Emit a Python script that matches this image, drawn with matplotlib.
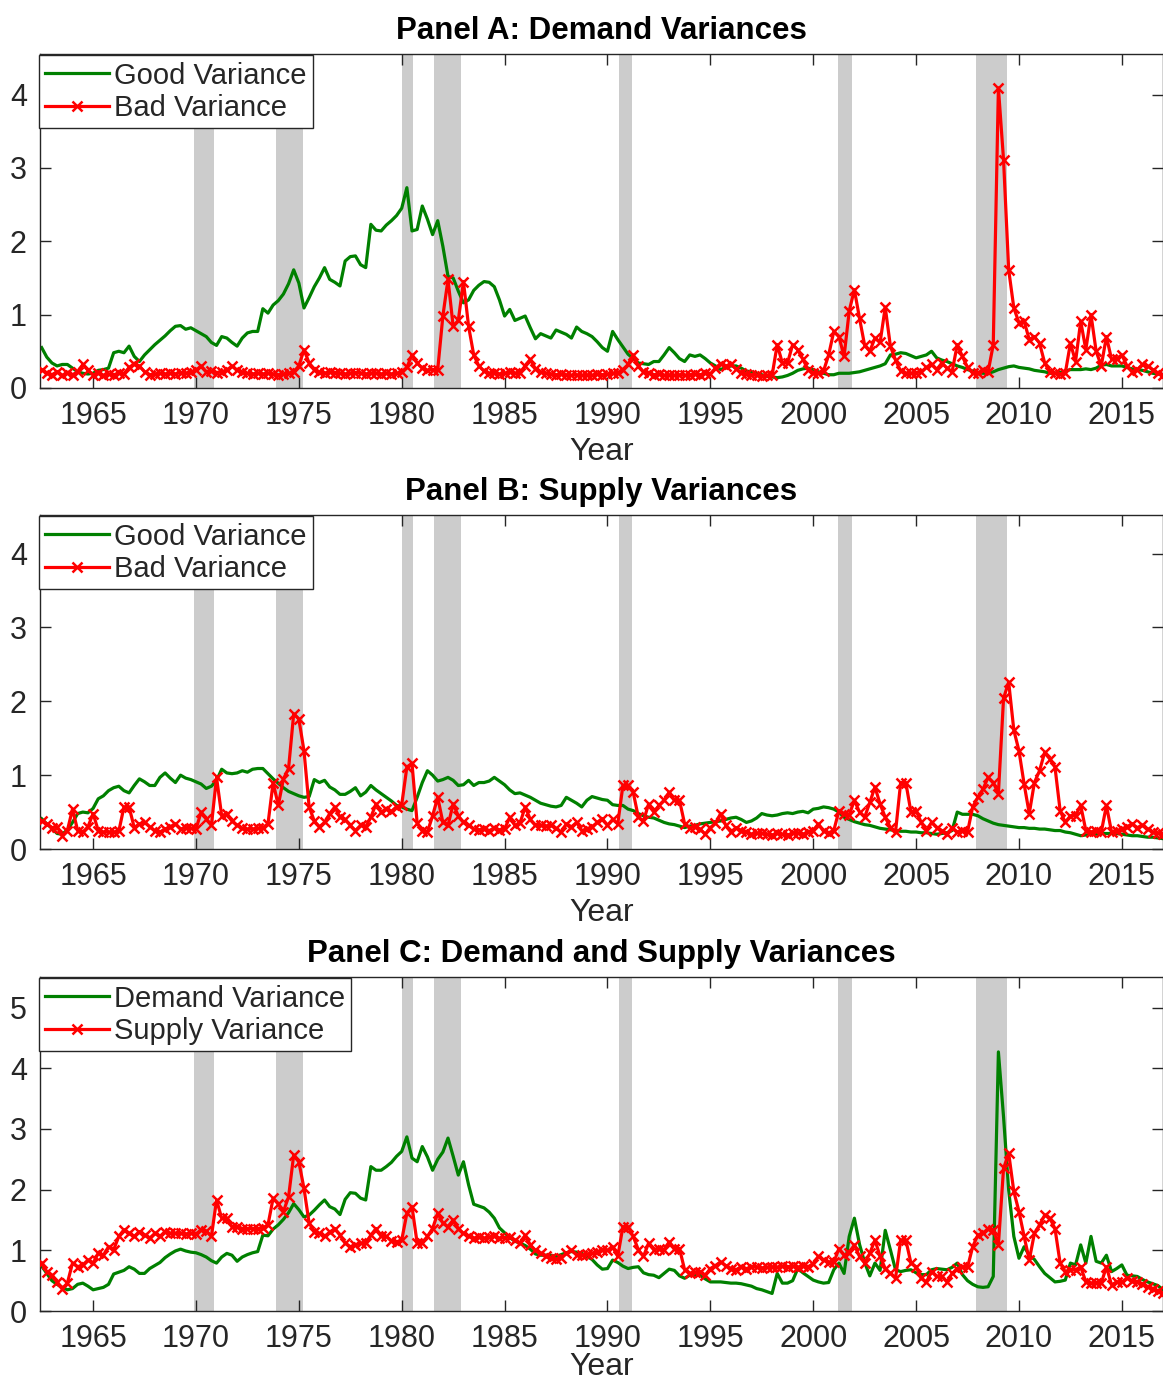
import numpy as np
import matplotlib
matplotlib.use("Agg")
import matplotlib.pyplot as plt

plt.rcParams['font.family'] = ['Liberation Sans', 'DejaVu Sans']

# Quarterly observation dates, 1962Q3 .. 2017Q1
dates = np.arange(1962.5, 2017.001, 0.25)

# NBER recession periods (start, end) in fractional years
recessions = [(1969.92, 1970.88), (1973.88, 1975.2), (1980.0, 1980.55),
              (1981.55, 1982.88), (1990.55, 1991.2), (2001.2, 2001.88),
              (2007.92, 2009.42)]

# Panel A: demand good / bad variances
demand_good = [
    0.55, 0.42,
    0.34, 0.30, 0.32, 0.32,  0.27, 0.22, 0.20, 0.19,  0.20, 0.24, 0.25, 0.27,
    0.48, 0.50, 0.48, 0.57,  0.43, 0.36, 0.45, 0.52,  0.59, 0.65, 0.71, 0.78,
    0.84, 0.85, 0.80, 0.82,  0.78, 0.74, 0.70, 0.62,  0.58, 0.70, 0.68, 0.62,
    0.57, 0.68, 0.75, 0.77,  0.77, 1.08, 1.02, 1.13,  1.19, 1.28, 1.42, 1.61,
    1.43, 1.09, 1.23, 1.38,  1.50, 1.64, 1.48, 1.44,  1.39, 1.73, 1.79, 1.80,
    1.68, 1.64, 2.23, 2.15,  2.14, 2.22, 2.28, 2.35,  2.45, 2.73, 2.14, 2.16,
    2.48, 2.30, 2.09, 2.28,  1.93, 1.52, 1.50, 1.32,  1.16, 1.20, 1.33, 1.40,
    1.45, 1.44, 1.38, 1.20,  0.98, 1.07, 0.92, 0.95,  0.98, 0.82, 0.67, 0.74,
    0.71, 0.68, 0.79, 0.76,  0.73, 0.68, 0.83, 0.77,  0.74, 0.70, 0.63, 0.55,
    0.50, 0.77, 0.66, 0.56,  0.46, 0.40, 0.34, 0.33,  0.32, 0.36, 0.36, 0.45,
    0.55, 0.48, 0.40, 0.36,  0.45, 0.43, 0.45, 0.40,  0.34, 0.30, 0.25, 0.28,
    0.30, 0.30, 0.27, 0.23,  0.22, 0.20, 0.18, 0.16,  0.15, 0.14, 0.15, 0.17,
    0.20, 0.24, 0.26, 0.27,  0.25, 0.22, 0.20, 0.18,  0.18, 0.20, 0.20, 0.20,
    0.21, 0.22, 0.24, 0.26,  0.28, 0.30, 0.33, 0.45,  0.46, 0.48, 0.47, 0.44,
    0.41, 0.43, 0.45, 0.50,  0.41, 0.38, 0.36, 0.33,  0.30, 0.28, 0.25, 0.23,
    0.21, 0.20, 0.20, 0.22,  0.25, 0.27, 0.29, 0.30,  0.28, 0.27, 0.26, 0.24,
    0.23, 0.22, 0.20, 0.20,  0.21, 0.23, 0.25, 0.25,  0.25, 0.26, 0.25, 0.27,
    0.31, 0.32, 0.30, 0.30,  0.30, 0.28, 0.26, 0.25,  0.24, 0.22, 0.20, 0.19,
    0.18]
demand_bad = [
    0.25, 0.20,
    0.18, 0.22, 0.17, 0.20,  0.18, 0.22, 0.32, 0.24,  0.18, 0.20, 0.17, 0.19,
    0.18, 0.20, 0.19, 0.28,  0.32, 0.30, 0.22, 0.18,  0.19, 0.20, 0.19, 0.20,
    0.19, 0.21, 0.20, 0.22,  0.24, 0.30, 0.22, 0.23,  0.21, 0.22, 0.24, 0.30,
    0.24, 0.22, 0.20, 0.19,  0.20, 0.19, 0.20, 0.19,  0.18, 0.19, 0.20, 0.22,
    0.30, 0.52, 0.34, 0.25,  0.22, 0.20, 0.22, 0.21,  0.20, 0.19, 0.20, 0.21,
    0.20, 0.19, 0.20, 0.20,  0.19, 0.20, 0.19, 0.20,  0.22, 0.28, 0.45, 0.34,
    0.27, 0.24, 0.25, 0.25,  0.98, 1.48, 0.84, 0.92,  1.45, 0.84, 0.45, 0.30,
    0.23, 0.20, 0.21, 0.19,  0.20, 0.22, 0.20, 0.21,  0.30, 0.39, 0.26, 0.22,
    0.20, 0.19, 0.18, 0.19,  0.18, 0.17, 0.18, 0.17,  0.18, 0.17, 0.19, 0.18,
    0.19, 0.20, 0.21, 0.25,  0.32, 0.45, 0.30, 0.22,  0.20, 0.18, 0.19, 0.17,
    0.18, 0.17, 0.18, 0.17,  0.18, 0.19, 0.18, 0.20,  0.19, 0.27, 0.33, 0.30,
    0.32, 0.26, 0.21, 0.19,  0.18, 0.17, 0.16, 0.17,  0.17, 0.59, 0.34, 0.34,
    0.59, 0.52, 0.39, 0.25,  0.21, 0.20, 0.23, 0.45,  0.77, 0.70, 0.43, 1.05,
    1.34, 0.95, 0.58, 0.50,  0.68, 0.62, 1.10, 0.57,  0.38, 0.23, 0.20, 0.20,
    0.21, 0.22, 0.28, 0.32,  0.25, 0.34, 0.27, 0.22,  0.59, 0.43, 0.28, 0.20,
    0.20, 0.25, 0.22, 0.59,  4.09, 3.11, 1.61, 1.09,  0.89, 0.91, 0.66, 0.70,
    0.61, 0.34, 0.22, 0.20,  0.19, 0.20, 0.61, 0.36,  0.91, 0.52, 1.00, 0.50,
    0.30, 0.70, 0.39, 0.40,  0.45, 0.30, 0.22, 0.25,  0.32, 0.30, 0.25, 0.20,
    0.18]

# Panel B: supply good / bad variances
supply_good = [
    0.41, 0.34,
    0.28, 0.21, 0.20, 0.26,  0.36, 0.48, 0.50, 0.49,  0.55, 0.68, 0.72, 0.79,
    0.83, 0.85, 0.79, 0.76,  0.86, 0.95, 0.91, 0.86,  0.86, 0.97, 1.03, 0.96,
    0.90, 1.00, 0.96, 0.94,  0.91, 0.88, 0.82, 0.85,  0.93, 1.08, 1.03, 1.02,
    1.03, 1.06, 1.04, 1.08,  1.09, 1.09, 1.02, 0.95,  0.89, 0.83, 0.78, 0.75,
    0.72, 0.70, 0.71, 0.94,  0.90, 0.93, 0.84, 0.80,  0.74, 0.74, 0.78, 0.83,
    0.72, 0.77, 0.86, 0.80,  0.75, 0.70, 0.65, 0.59,  0.57, 0.54, 0.52, 0.70,
    0.90, 1.06, 1.00, 0.92,  0.94, 0.97, 0.93, 0.86,  0.87, 0.93, 0.86, 0.90,
    0.90, 0.92, 0.97, 0.92,  0.87, 0.80, 0.75, 0.76,  0.73, 0.70, 0.66, 0.62,
    0.60, 0.58, 0.57, 0.59,  0.70, 0.66, 0.62, 0.57,  0.66, 0.71, 0.69, 0.67,
    0.66, 0.60, 0.59, 0.59,  0.54, 0.52, 0.48, 0.45,  0.43, 0.42, 0.39, 0.36,
    0.34, 0.33, 0.31, 0.29,  0.31, 0.32, 0.34, 0.35,  0.36, 0.37, 0.38, 0.40,
    0.42, 0.43, 0.40, 0.36,  0.38, 0.42, 0.48, 0.46,  0.45, 0.46, 0.48, 0.49,
    0.48, 0.50, 0.51, 0.49,  0.54, 0.55, 0.57, 0.56,  0.54, 0.50, 0.43, 0.40,
    0.37, 0.35, 0.33, 0.32,  0.30, 0.28, 0.27, 0.26,  0.25, 0.24, 0.24, 0.23,
    0.23, 0.22, 0.22, 0.21,  0.20, 0.21, 0.22, 0.25,  0.50, 0.47, 0.47, 0.47,
    0.45, 0.41, 0.38, 0.35,  0.33, 0.32, 0.31, 0.30,  0.29, 0.29, 0.28, 0.28,
    0.27, 0.27, 0.26, 0.25,  0.25, 0.23, 0.22, 0.20,  0.18, 0.19, 0.20, 0.20,
    0.21, 0.21, 0.21, 0.21,  0.20, 0.19, 0.18, 0.18,  0.17, 0.16, 0.16, 0.15,
    0.14]
supply_bad = [
    0.38, 0.34,
    0.29, 0.30, 0.18, 0.25,  0.54, 0.25, 0.23, 0.30,  0.48, 0.25, 0.23, 0.23,
    0.23, 0.24, 0.57, 0.57,  0.29, 0.34, 0.36, 0.30,  0.25, 0.23, 0.27, 0.30,
    0.34, 0.27, 0.29, 0.28,  0.27, 0.50, 0.41, 0.32,  0.97, 0.45, 0.48, 0.38,
    0.32, 0.28, 0.27, 0.27,  0.28, 0.29, 0.34, 0.90,  0.59, 0.95, 1.09, 1.83,
    1.76, 1.33, 0.57, 0.38,  0.30, 0.36, 0.48, 0.57,  0.43, 0.40, 0.32, 0.25,
    0.32, 0.30, 0.43, 0.61,  0.50, 0.54, 0.51, 0.57,  0.60, 1.11, 1.16, 0.35,
    0.25, 0.23, 0.45, 0.70,  0.36, 0.32, 0.61, 0.45,  0.36, 0.32, 0.27, 0.26,
    0.27, 0.25, 0.28, 0.26,  0.27, 0.43, 0.32, 0.35,  0.57, 0.40, 0.32, 0.32,
    0.31, 0.32, 0.28, 0.23,  0.34, 0.30, 0.36, 0.25,  0.27, 0.30, 0.36, 0.41,
    0.32, 0.40, 0.34, 0.86,  0.86, 0.77, 0.43, 0.38,  0.61, 0.50, 0.59, 0.66,
    0.77, 0.66, 0.66, 0.34,  0.29, 0.30, 0.27, 0.20,  0.29, 0.35, 0.48, 0.32,
    0.23, 0.29, 0.25, 0.23,  0.20, 0.22, 0.21, 0.20,  0.19, 0.21, 0.20, 0.19,
    0.21, 0.22, 0.20, 0.23,  0.25, 0.34, 0.24, 0.22,  0.25, 0.52, 0.48, 0.46,
    0.66, 0.50, 0.43, 0.63,  0.84, 0.61, 0.43, 0.29,  0.23, 0.90, 0.90, 0.50,
    0.52, 0.36, 0.25, 0.36,  0.29, 0.25, 0.20, 0.29,  0.23, 0.25, 0.23, 0.57,
    0.70, 0.81, 0.97, 0.90,  0.75, 2.04, 2.26, 1.61,  1.33, 0.88, 0.48, 0.90,
    1.06, 1.31, 1.22, 1.11,  0.52, 0.36, 0.45, 0.45,  0.59, 0.25, 0.23, 0.25,
    0.23, 0.59, 0.23, 0.25,  0.27, 0.30, 0.34, 0.29,  0.32, 0.27, 0.23, 0.22,
    0.20]

# Panel C: total demand / supply variances
demand_total = [
    0.74, 0.62,
    0.50, 0.44, 0.39, 0.35,  0.37, 0.44, 0.46, 0.41,  0.35, 0.37, 0.39, 0.44,
    0.61, 0.64, 0.67, 0.73,  0.69, 0.62, 0.62, 0.70,  0.75, 0.80, 0.88, 0.94,
    0.99, 1.02, 0.99, 0.97,  0.96, 0.93, 0.89, 0.83,  0.79, 0.89, 0.95, 0.92,
    0.82, 0.89, 0.93, 0.96,  0.98, 1.25, 1.24, 1.35,  1.42, 1.51, 1.62, 1.77,
    1.67, 1.55, 1.58, 1.66,  1.75, 1.83, 1.72, 1.68,  1.59, 1.84, 1.95, 1.94,
    1.86, 1.83, 2.38, 2.32,  2.32, 2.38, 2.45, 2.55,  2.63, 2.87, 2.52, 2.46,
    2.71, 2.54, 2.32, 2.50,  2.62, 2.85, 2.55, 2.24,  2.46, 2.08, 1.76, 1.73,
    1.70, 1.63, 1.53, 1.37,  1.29, 1.21, 1.15, 1.12,  1.08, 1.02, 0.94, 0.92,
    0.92, 0.92, 0.90, 0.93,  0.96, 0.98, 0.97, 0.95,  0.90, 0.85, 0.76, 0.69,
    0.70, 0.84, 0.80, 0.74,  0.70, 0.72, 0.73, 0.63,  0.60, 0.59, 0.55, 0.62,
    0.69, 0.67, 0.58, 0.54,  0.59, 0.59, 0.59, 0.53,  0.48, 0.48, 0.48, 0.47,
    0.46, 0.46, 0.45, 0.43,  0.41, 0.37, 0.35, 0.32,  0.29, 0.62, 0.46, 0.46,
    0.50, 0.70, 0.63, 0.57,  0.51, 0.48, 0.46, 0.47,  0.68, 0.79, 0.62, 1.23,
    1.53, 1.10, 0.80, 0.58,  0.79, 0.67, 1.33, 1.01,  0.68, 0.65, 0.67, 0.68,
    0.63, 0.60, 0.60, 0.68,  0.70, 0.69, 0.68, 0.72,  0.79, 0.60, 0.50, 0.44,
    0.40, 0.39, 0.40, 0.57,  4.27, 3.20, 1.99, 1.23,  0.87, 1.06, 0.92, 0.85,
    0.73, 0.62, 0.55, 0.48,  0.49, 0.51, 0.79, 0.76,  1.09, 0.79, 1.23, 0.82,
    0.79, 0.92, 0.65, 0.70,  0.76, 0.59, 0.58, 0.57,  0.52, 0.48, 0.45, 0.42,
    0.35]
supply_total = [
    0.79, 0.65,
    0.59, 0.48, 0.37, 0.46,  0.79, 0.73, 0.76, 0.84,  0.79, 0.95, 0.92, 1.06,
    1.01, 1.23, 1.34, 1.28,  1.23, 1.31, 1.25, 1.20,  1.28, 1.23, 1.31, 1.28,
    1.28, 1.28, 1.27, 1.28,  1.27, 1.34, 1.32, 1.23,  1.83, 1.53, 1.53, 1.39,
    1.39, 1.36, 1.36, 1.36,  1.36, 1.37, 1.42, 1.86,  1.77, 1.64, 1.88, 2.57,
    2.46, 2.02, 1.45, 1.31,  1.28, 1.23, 1.30, 1.36,  1.25, 1.12, 1.06, 1.09,
    1.12, 1.12, 1.25, 1.36,  1.23, 1.23, 1.16, 1.14,  1.17, 1.61, 1.72, 1.12,
    1.12, 1.23, 1.36, 1.61,  1.45, 1.39, 1.50, 1.36,  1.28, 1.23, 1.20, 1.22,
    1.20, 1.22, 1.24, 1.20,  1.21, 1.22, 1.17, 1.12,  1.25, 1.09, 1.00, 0.95,
    0.90, 0.87, 0.85, 0.88,  0.95, 1.00, 0.93, 0.92,  0.94, 0.95, 0.98, 1.00,
    1.00, 1.06, 0.90, 1.39,  1.39, 1.23, 1.01, 0.90,  1.12, 1.01, 1.03, 1.01,
    1.14, 1.03, 1.03, 0.68,  0.62, 0.64, 0.65, 0.59,  0.70, 0.75, 0.81, 0.75,
    0.70, 0.68, 0.73, 0.70,  0.72, 0.73, 0.71, 0.72,  0.73, 0.72, 0.74, 0.73,
    0.74, 0.72, 0.75, 0.73,  0.78, 0.90, 0.84, 0.81,  0.80, 1.03, 0.92, 0.95,
    1.09, 0.90, 0.79, 0.95,  1.17, 0.90, 0.70, 0.62,  0.54, 1.17, 1.17, 0.79,
    0.73, 0.54, 0.48, 0.65,  0.57, 0.57, 0.48, 0.62,  0.70, 0.72, 0.72, 1.06,
    1.25, 1.28, 1.36, 1.34,  1.09, 2.35, 2.60, 1.97,  1.64, 1.23, 0.84, 1.28,
    1.42, 1.58, 1.53, 1.36,  0.79, 0.65, 0.68, 0.68,  0.73, 0.48, 0.46, 0.47,
    0.46, 0.73, 0.43, 0.48,  0.48, 0.54, 0.50, 0.48,  0.45, 0.40, 0.37, 0.33,
    0.29]

panels = [
    ("Panel A: Demand Variances", demand_good, demand_bad,
     ("Good Variance", "Bad Variance"), 4.55, [0, 1, 2, 3, 4], 4),
    ("Panel B: Supply Variances", supply_good, supply_bad,
     ("Good Variance", "Bad Variance"), 4.52, [0, 1, 2, 3, 4], 4),
    ("Panel C: Demand and Supply Variances", demand_total, supply_total,
     ("Demand Variance", "Supply Variance"), 5.5, [0, 1, 2, 3, 4, 5], -1.5),
]
xticks = list(range(1965, 2016, 5))

GREEN = "#008000"
RED = "#ff0000"
FRAME = "#262626"

fig = plt.figure(figsize=(11.63, 13.85), dpi=100)
left, width = 0.0344, 0.9656
bottoms = [0.7199, 0.3870, 0.0534]
height = 0.2410

for (title, s1, s2, labels, ymax, yticks, lpad), b in zip(panels, bottoms):
    ax = fig.add_axes([left, b, width, height])
    for r0, r1 in recessions:
        ax.axvspan(r0, r1, color="#cccccc", lw=0, zorder=0)
    ax.plot(dates, s1, color=GREEN, lw=2.3, label=labels[0], zorder=2)
    ax.plot(dates, s2, color=RED, lw=2.3, marker="x", ms=7, mew=1.8,
            label=labels[1], zorder=3)
    ax.set_xlim(1962.42, 2017.0)
    ax.set_ylim(0, ymax)
    ax.set_xticks(xticks)
    ax.set_yticks(yticks)
    ax.tick_params(direction="in", top=True, right=True, length=8,
                   width=1, color=FRAME, labelsize=22, labelcolor="#262626",
                   pad=9.5)
    for sp in ax.spines.values():
        sp.set_color(FRAME)
        sp.set_linewidth(1.0)
    ax.set_title(title, fontsize=22.5, fontweight="bold", pad=11)
    ax.set_xlabel("Year", fontsize=23, color="#262626", labelpad=lpad)
    leg = ax.legend(loc="upper left", bbox_to_anchor=(-0.001, 0.997),
                    borderaxespad=0.0, fontsize=21, frameon=True,
                    fancybox=False, edgecolor=FRAME, framealpha=1,
                    handlelength=2.2, handletextpad=0.15, borderpad=0.22,
                    labelspacing=0.15, markerscale=1.0)
    leg.get_frame().set_linewidth(1.0)
    for t in leg.get_texts():
        t.set_color("#262626")

fig.savefig("out.png", dpi=100)
